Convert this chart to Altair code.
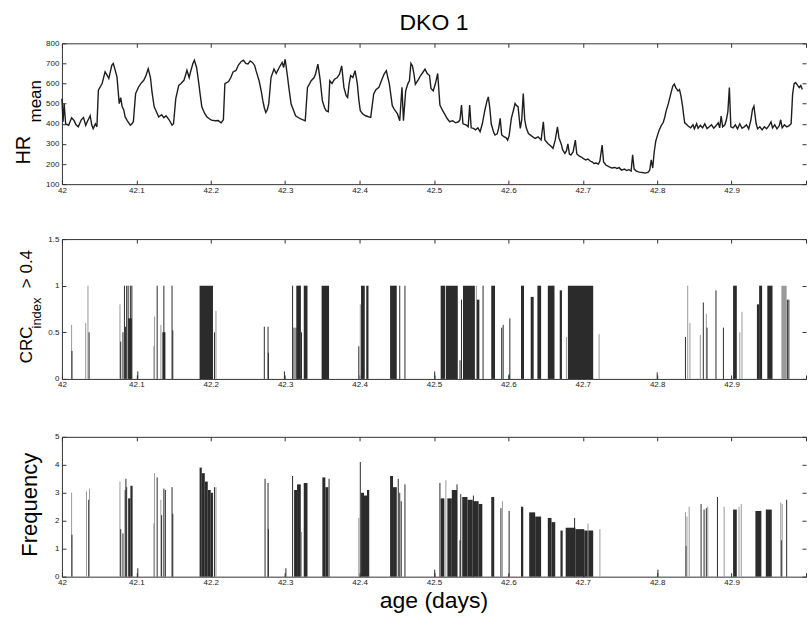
import altair as alt
import pandas as pd

# ---------------- data ----------------
hr_day = [
    42.000, 42.0015, 42.003, 42.005, 42.009, 42.013, 42.016, 42.019, 42.022, 42.026,
    42.029, 42.032, 42.034, 42.038, 42.040, 42.042, 42.045, 42.047, 42.049, 42.054,
    42.058, 42.061, 42.063, 42.067, 42.069, 42.071, 42.074, 42.077, 42.079, 42.081,
    42.083, 42.085, 42.088, 42.092, 42.094, 42.096,
    42.099, 42.103, 42.106, 42.110, 42.113, 42.116, 42.119, 42.121, 42.124, 42.127,
    42.130, 42.134, 42.137, 42.140, 42.144, 42.148, 42.150, 42.153, 42.157, 42.160,
    42.164, 42.166, 42.168, 42.171, 42.173, 42.176, 42.178, 42.181, 42.184, 42.186,
    42.188, 42.192, 42.195, 42.198, 42.201, 42.206, 42.210, 42.214, 42.217,
    42.219, 42.224, 42.227, 42.230, 42.234, 42.237, 42.241, 42.244, 42.247, 42.250,
    42.253, 42.256, 42.259, 42.261, 42.265, 42.268, 42.270, 42.272, 42.274, 42.276,
    42.278, 42.281, 42.285, 42.288, 42.292, 42.296, 42.298, 42.300, 42.303, 42.305,
    42.308, 42.311, 42.314, 42.318, 42.321, 42.324, 42.327,
    42.330, 42.333, 42.335, 42.339, 42.341, 42.344, 42.347, 42.350, 42.353, 42.355,
    42.358, 42.360, 42.363, 42.366, 42.370, 42.373, 42.376, 42.379, 42.382, 42.384,
    42.386, 42.388, 42.391, 42.394, 42.397, 42.399, 42.401, 42.404, 42.408, 42.412,
    42.415,
    42.419, 42.422, 42.426, 42.430, 42.433, 42.436, 42.438, 42.440, 42.444, 42.447,
    42.451, 42.454, 42.457, 42.459, 42.462, 42.465, 42.467, 42.469, 42.471, 42.473,
    42.475, 42.479, 42.482, 42.485, 42.488, 42.491, 42.494, 42.496, 42.499, 42.502,
    42.505, 42.508,
    42.511, 42.514, 42.518, 42.521, 42.525, 42.529, 42.533, 42.535, 42.537, 42.539,
    42.543, 42.546, 42.548, 42.550, 42.553, 42.556, 42.559, 42.562, 42.565, 42.568,
    42.571, 42.573, 42.575, 42.577, 42.580, 42.582, 42.585, 42.587, 42.589, 42.591,
    42.594, 42.597, 42.599, 42.601, 42.604, 42.607, 42.609, 42.611, 42.613, 42.616,
    42.618,
    42.620, 42.622, 42.624, 42.627, 42.631, 42.636, 42.640, 42.644, 42.647, 42.649,
    42.653, 42.657, 42.660, 42.663, 42.666, 42.668, 42.671, 42.673, 42.676, 42.678,
    42.680, 42.682, 42.684, 42.687, 42.690, 42.692, 42.695, 42.698, 42.701, 42.704,
    42.707, 42.710, 42.713, 42.715, 42.718, 42.721, 42.723, 42.726, 42.728, 42.731,
    42.735, 42.739, 42.743, 42.746, 42.749,
    42.752, 42.756, 42.759, 42.762, 42.765, 42.767, 42.769, 42.772, 42.776, 42.780,
    42.784, 42.788, 42.790, 42.792, 42.794, 42.796, 42.798, 42.801, 42.803, 42.806,
    42.808, 42.810, 42.812, 42.815, 42.817, 42.819, 42.821, 42.823, 42.825, 42.828,
    42.830, 42.832, 42.834, 42.836, 42.837, 42.840, 42.842,
    42.845, 42.848, 42.850, 42.853, 42.855, 42.858, 42.861, 42.864, 42.867, 42.870,
    42.873, 42.876, 42.879, 42.882, 42.884, 42.886, 42.888, 42.891, 42.893, 42.895,
    42.897, 42.899, 42.902, 42.905, 42.908, 42.911, 42.914, 42.917, 42.920, 42.923,
    42.926, 42.928, 42.930, 42.933, 42.935, 42.938, 42.941, 42.944, 42.947, 42.950,
    42.953, 42.955, 42.958, 42.961, 42.964, 42.966, 42.968, 42.971, 42.974, 42.977,
    42.980, 42.982, 42.984, 42.986, 42.989, 42.991, 42.993, 42.995,
]
hr_val = [
    525, 410, 500, 400, 393, 430, 418, 395, 385, 420,
    431, 392, 410, 440, 395, 376, 400, 385, 567, 600,
    658, 640, 625, 691, 700, 674, 633, 500, 530, 484,
    470, 434, 415, 393, 400, 410,
    550, 583, 600, 616, 640, 674, 630, 560, 484, 460,
    434, 445, 430, 440, 420, 393, 400, 525, 591, 600,
    616, 640, 666, 630, 660, 700, 716, 680, 600, 540,
    484, 450, 434, 425, 418, 415, 416, 405, 420,
    600, 610, 630, 658, 665, 691, 710, 716, 700, 697,
    712, 705, 690, 663, 614, 560, 515, 480, 456, 470,
    500, 630, 672, 650, 680, 705, 680, 721, 640, 580,
    498, 470, 440, 430, 424, 420, 415,
    581, 600, 614, 630, 650, 697, 620, 515, 480, 465,
    460, 614, 600, 620, 630, 647, 688, 581, 540, 531,
    600, 640, 630, 664, 600, 520, 465, 450, 440, 435,
    432,
    548, 570, 581, 620, 647, 664, 630, 600, 490, 470,
    449, 415, 581, 415, 564, 600, 614, 700, 688, 650,
    597, 620, 640, 655, 672, 650, 640, 576, 564, 600,
    650, 493,
    470, 451, 425, 410, 415, 405, 410, 420, 493, 400,
    395, 385, 493, 380, 377, 370, 380, 361, 400, 460,
    510, 534, 480, 400, 360, 344, 350, 380, 427, 345,
    336, 330, 319, 340, 427, 470, 501, 490, 485, 377,
    420,
    551, 420, 380, 352, 340, 327, 335, 320, 410, 320,
    302, 290, 278, 320, 385, 330, 300, 270, 253, 265,
    300, 250, 245, 260, 319, 250, 240, 235, 227, 220,
    225, 215, 210, 203, 205, 200, 215, 294, 210, 195,
    187, 180, 183, 178, 182,
    170, 175, 168, 172, 165, 246, 175, 165, 160, 158,
    155, 160, 170, 221, 180, 260, 313, 350, 371, 395,
    405, 430, 463, 500, 530, 560, 588, 597, 580, 563,
    570, 538, 490, 430, 405, 395, 388,
    380, 395, 375, 400, 378, 392, 380, 400, 376, 385,
    395, 378, 390, 405, 380, 438, 385, 395, 420, 460,
    580, 385, 380, 395, 375, 400, 378, 385, 395, 375,
    420, 470, 488, 400, 375, 385, 370, 385, 375, 390,
    410, 380, 395, 375, 390, 420, 380, 395, 385, 390,
    400, 547, 600, 605, 590, 580, 590, 570,
]

# CRC_index > 0.4 : single stems
crc_day = [
    42.013, 42.0135, 42.032, 42.035, 42.0365, 42.078, 42.079, 42.082, 42.084, 42.0855,
    42.087, 42.089, 42.092, 42.094, 42.102, 42.124, 42.1245, 42.128, 42.133, 42.137,
    42.138, 42.148, 42.149, 42.205, 42.207, 42.272, 42.277, 42.2775, 42.299, 42.310,
    42.320, 42.322, 42.399, 42.401, 42.454, 42.461, 42.501, 42.535, 42.537, 42.557,
    42.566, 42.591, 42.593, 42.601, 42.602, 42.678, 42.722, 42.800, 42.838, 42.841,
    42.844, 42.858, 42.862, 42.866, 42.867, 42.879, 42.889, 42.911, 42.914, 42.975,
    42.977,
]
crc_val = [
    0.58, 0.30, 0.60, 1.00, 0.50, 0.80, 0.40, 0.50, 1.00, 0.56,
    1.00, 1.00, 1.00, 1.00, 0.08, 0.35, 0.67, 1.00, 0.58, 1.00,
    0.50, 1.00, 0.52, 0.50, 0.73, 0.56, 0.56, 0.28, 0.08, 1.00,
    1.00, 0.50, 0.35, 0.80, 1.00, 1.00, 0.08, 0.20, 0.85, 1.00,
    1.00, 0.55, 0.58, 0.05, 0.65, 0.45, 0.48, 0.07, 0.45, 1.00,
    0.60, 0.47, 0.82, 0.70, 0.55, 0.95, 0.55, 0.50, 0.72, 0.85,
    0.85,
]
crc_tone = [
    "l", "d", "l", "l", "d", "l", "d", "d", "d", "d",
    "d", "d", "d", "d", "d", "d", "l", "d", "l", "d",
    "d", "d", "d", "d", "l", "d", "d", "d", "d", "d",
    "d", "d", "d", "l", "d", "d", "d", "d", "d", "l",
    "d", "d", "d", "d", "d", "l", "l", "d", "d", "l",
    "l", "l", "d", "l", "d", "d", "d", "l", "l", "d",
    "d",
]
# CRC dense clusters
crc_blk_start = [42.089, 42.135, 42.185, 42.310, 42.315, 42.325, 42.349, 42.402, 42.409, 42.441,
                 42.509, 42.516, 42.539, 42.557, 42.577, 42.617, 42.630, 42.639, 42.653, 42.669,
                 42.680, 42.902, 42.934, 42.937, 42.948, 42.967]
crc_blk_end = [42.094, 42.139, 42.203, 42.318, 42.321, 42.330, 42.359, 42.407, 42.412, 42.450,
               42.515, 42.532, 42.555, 42.561, 42.582, 42.621, 42.634, 42.644, 42.662, 42.672,
               42.714, 42.907, 42.937, 42.941, 42.955, 42.974]
crc_blk_val = [0.65, 0.50, 1.00, 0.55, 1.00, 1.00, 1.00, 1.00, 1.00, 1.00,
               1.00, 1.00, 1.00, 0.85, 1.00, 1.00, 0.88, 1.00, 1.00, 0.95,
               1.00, 1.00, 0.80, 1.00, 1.00, 1.00]
crc_blk_tone = ["d", "d", "d", "l", "d", "d", "d", "d", "d", "d",
                "d", "d", "d", "d", "d", "d", "d", "d", "d", "d",
                "d", "d", "d", "d", "d", "l"]

# Frequency : single stems
fq_day = [
    42.013, 42.0135, 42.033, 42.036, 42.037, 42.078, 42.079, 42.082, 42.085, 42.086,
    42.087, 42.102, 42.124, 42.1245, 42.128, 42.133, 42.134, 42.137, 42.139, 42.148,
    42.149, 42.205, 42.207, 42.273, 42.277, 42.2775, 42.301, 42.310, 42.322, 42.359,
    42.399, 42.401, 42.452, 42.454, 42.456, 42.461, 42.501, 42.508, 42.516, 42.531,
    42.535, 42.536, 42.553, 42.590, 42.592, 42.601, 42.689, 42.707, 42.723, 42.801,
    42.838, 42.839, 42.840, 42.843, 42.859, 42.863, 42.866, 42.868, 42.881, 42.890,
    42.910, 42.913, 42.966, 42.967, 42.968, 42.974,
]
fq_val = [
    3.00, 1.50, 3.05, 2.75, 3.15, 3.40, 1.70, 1.55, 3.10, 3.50,
    3.20, 0.30, 1.90, 3.70, 3.55, 2.75, 2.20, 3.15, 3.10, 3.20,
    2.25, 3.20, 3.20, 3.50, 3.35, 1.70, 0.30, 3.60, 1.60, 3.50,
    2.10, 4.10, 3.50, 3.00, 2.70, 3.30, 0.25, 3.35, 3.45, 3.30,
    1.30, 2.95, 2.90, 2.45, 2.70, 2.35, 2.10, 1.90, 1.70, 0.25,
    2.30, 1.10, 2.15, 2.50, 2.60, 2.40, 2.45, 2.50, 2.85, 2.50,
    2.50, 2.60, 2.65, 1.30, 2.60, 2.75,
]
fq_tone = [
    "l", "d", "l", "d", "l", "l", "d", "d", "d", "d",
    "d", "d", "d", "l", "d", "l", "d", "d", "d", "d",
    "d", "d", "l", "d", "d", "d", "d", "d", "l", "d",
    "l", "d", "d", "d", "d", "d", "d", "d", "l", "d",
    "d", "d", "d", "d", "l", "d", "d", "l", "l", "d",
    "l", "d", "l", "l", "d", "d", "d", "l", "d", "l",
    "l", "l", "l", "d", "l", "d",
]
# Frequency dense clusters
fq_blk_start = [42.089, 42.092, 42.185, 42.188, 42.192, 42.196, 42.200, 42.312, 42.316, 42.325,
                42.350, 42.354, 42.402, 42.406, 42.410, 42.441, 42.445, 42.509, 42.518, 42.524,
                42.538, 42.545, 42.552, 42.560, 42.577, 42.617, 42.628, 42.636, 42.653, 42.658,
                42.670, 42.677, 42.690, 42.702, 42.902, 42.932, 42.946]
fq_blk_end = [42.092, 42.095, 42.188, 42.192, 42.196, 42.200, 42.203, 42.316, 42.321, 42.330,
              42.354, 42.358, 42.406, 42.410, 42.413, 42.445, 42.450, 42.514, 42.524, 42.531,
              42.545, 42.552, 42.560, 42.565, 42.581, 42.620, 42.636, 42.644, 42.658, 42.663,
              42.673, 42.690, 42.702, 42.714, 42.907, 42.940, 42.954]
fq_blk_val = [2.80, 3.25, 3.90, 3.70, 3.40, 3.10, 3.00, 3.10, 3.30, 3.35,
              3.55, 3.20, 3.00, 2.90, 3.10, 3.60, 3.20, 2.80, 2.80, 3.10,
              2.85, 2.75, 2.70, 2.60, 2.85, 2.50, 2.30, 2.15, 2.10, 1.95,
              1.65, 1.75, 1.70, 1.65, 2.40, 2.35, 2.40]

x_ticks = [42.0, 42.1, 42.2, 42.3, 42.4, 42.5, 42.6, 42.7, 42.8, 42.9, 43.0]
hr_ticks = [100, 200, 300, 400, 500, 600, 700, 800]
crc_ticks = [0, 0.5, 1, 1.5]
fq_ticks = [0, 1, 2, 3, 4, 5]

# ---------------- styling ----------------
W = 745
FONT = "Liberation Sans"
INK = "#1e1e1e"
FRAME = "#333333"
TICK = 4
TONES = alt.Scale(domain=["d", "l"], range=["#2b2b2b", "#9a9a9a"])

xs = alt.Scale(domain=[42, 43], nice=False, zero=False)


def main_x_axis():
    return alt.Axis(orient="bottom", values=x_ticks, format=".1~f",
                    labelExpr="datum.value >= 43 ? '' : datum.label",
                    offset=-TICK, tickSize=TICK, tickColor=FRAME, domain=False, grid=False,
                    labelFontSize=8, labelFont=FONT, labelColor="#222", labelPadding=2,
                    labelFlush=False, labelOverlap=False, labelAngle=0, title=None)


def main_y_axis(ticks):
    return alt.Axis(orient="left", values=ticks, format="~r",
                    offset=-TICK, tickSize=TICK, tickColor=FRAME, domain=False, grid=False,
                    labelFontSize=8, labelFont=FONT, labelColor="#222", labelPadding=3,
                    labelOverlap=False, title=None)


def frame_layers(ys, ydom, yticks):
    df = pd.DataFrame({"x": [42.0, 43.0], "y": ydom})
    base = alt.Chart(df).mark_point(opacity=0)
    ticks_tr = base.encode(
        x=alt.X("x:Q", scale=xs, axis=alt.Axis(orient="top", values=x_ticks, offset=-TICK,
                                                 tickSize=TICK, tickColor=FRAME, labels=False,
                                                 domain=False, grid=False, title=None)),
        y=alt.Y("y:Q", scale=ys, axis=alt.Axis(orient="right", values=yticks, offset=-TICK,
                                                 tickSize=TICK, tickColor=FRAME, labels=False,
                                                 domain=False, grid=False, title=None)))
    dom_bl = base.encode(
        x=alt.X("x:Q", scale=xs, axis=alt.Axis(orient="bottom", ticks=False, labels=False,
                                                 domain=True, domainColor=FRAME, grid=False,
                                                 title=None)),
        y=alt.Y("y:Q", scale=ys, axis=alt.Axis(orient="left", ticks=False, labels=False,
                                                 domain=True, domainColor=FRAME, grid=False,
                                                 title=None)))
    dom_t = base.encode(
        x=alt.X("x:Q", scale=xs, axis=alt.Axis(orient="top", ticks=False, labels=False,
                                                 domain=True, domainColor=FRAME, grid=False,
                                                 title=None)),
        y=alt.Y("y:Q", scale=ys, axis=None))
    return [ticks_tr, dom_bl, dom_t]


def label(text, x, y, size, angle=270, baseline="alphabetic"):
    return alt.Chart(pd.DataFrame({"t": [text]})).mark_text(
        angle=angle, fontSize=size, font=FONT, color="#000", align="center", baseline=baseline
    ).encode(x=alt.value(x), y=alt.value(y), text="t:N")


# ---------------- panel 1 : HR mean ----------------
hr_dom = [100, 800]
ys_hr = alt.Scale(domain=hr_dom, nice=False, zero=False)
hr_df = pd.DataFrame({"day": hr_day, "hr": hr_val})
hr_line = alt.Chart(hr_df).mark_line(color=INK, strokeWidth=1.4).encode(
    x=alt.X("day:Q", scale=xs, axis=main_x_axis()),
    y=alt.Y("hr:Q", scale=ys_hr, axis=main_y_axis(hr_ticks)))
p1 = alt.layer(
    hr_line, *frame_layers(ys_hr, hr_dom, hr_ticks),
    label("DKO 1", W / 2, -13, 23, angle=0),
    label("HR", -32, 107, 20),
    label("mean", -21, 58, 17),
).resolve_axis(x="independent", y="independent").properties(width=W, height=141)


def stem_panel(days, vals, tones, bs, be, bv, btone, ydom, yticks, extra):
    ys = alt.Scale(domain=ydom, nice=False, zero=False)
    sdf = pd.DataFrame({"day": days, "val": vals, "tone": tones})
    bdf = pd.DataFrame({"s": bs, "e": be, "v": bv, "tone": btone})
    blocks = alt.Chart(bdf).mark_rect().encode(
        x=alt.X("s:Q", scale=xs, axis=None), x2="e:Q",
        y=alt.Y("v:Q", scale=ys, axis=None), y2=alt.datum(0),
        color=alt.Color("tone:N", scale=TONES, legend=None))
    stems = alt.Chart(sdf).mark_rule(strokeWidth=1).encode(
        x=alt.X("day:Q", scale=xs, axis=main_x_axis()),
        y=alt.Y("val:Q", scale=ys, axis=main_y_axis(yticks)), y2=alt.datum(0),
        color=alt.Color("tone:N", scale=TONES, legend=None))
    return alt.layer(blocks, stems, *frame_layers(ys, ydom, yticks), *extra).resolve_axis(
        x="independent", y="independent").properties(width=W, height=140)


p2 = stem_panel(crc_day, crc_val, crc_tone, crc_blk_start, crc_blk_end, crc_blk_val,
                crc_blk_tone, [0, 1.5], crc_ticks,
                [label("CRC", -30, 106, 17), label("index", -21, 74, 13),
                 label("> 0.4", -30, 30, 17)])

p3 = stem_panel(fq_day, fq_val, fq_tone, fq_blk_start, fq_blk_end, fq_blk_val,
                ["d"] * len(fq_blk_val), [0, 5], fq_ticks,
                [label("Frequency", -25, 68, 22),
                 label("age (days)", W / 2, 171, 23, angle=0)])

chart = alt.vconcat(alt.vconcat(p1, p2, spacing=41), p3, spacing=44).properties(
    padding={"left": 14, "top": 12, "right": 0, "bottom": 2},
    background="white",
).configure_view(stroke=None)

chart.save("out.html", embed_options={"renderer": "svg", "actions": False})
